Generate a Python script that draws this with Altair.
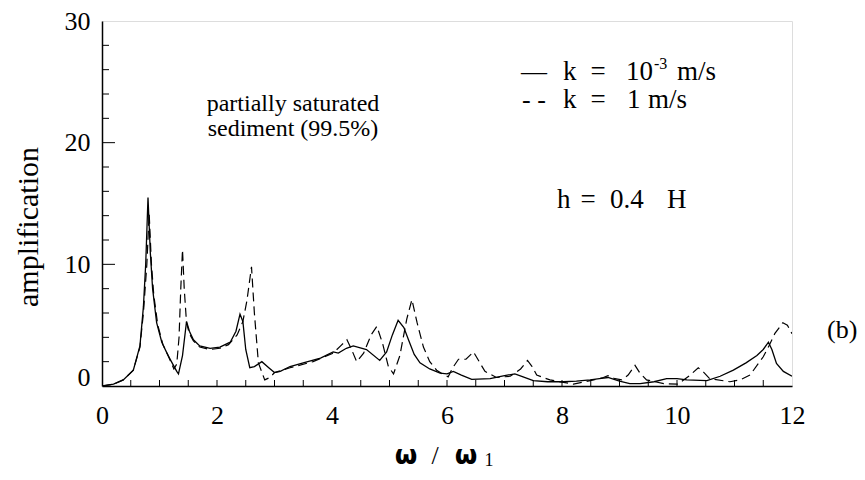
import altair as alt
import pandas as pd

# ---- data ----
solid_x = [0, 0.2, 0.37, 0.545, 0.66, 0.72, 0.76, 0.80, 0.84, 0.88, 0.95, 1.04, 1.15, 1.30, 1.33,
           1.40, 1.47, 1.52, 1.59, 1.7, 1.88, 2.05, 2.23, 2.33, 2.40, 2.45, 2.50, 2.57, 2.65, 2.78,
           2.9, 3.0, 3.1, 3.27, 3.5, 3.8, 4.02, 4.11, 4.25, 4.37, 4.6, 4.83, 4.95, 5.05, 5.15, 5.25,
           5.33, 5.43, 5.53, 5.7, 5.88, 6.0, 6.11, 6.25, 6.43, 6.75, 7.0, 7.18, 7.3, 7.5, 7.75, 8.02,
           8.25, 8.49, 8.65, 8.8, 9.0, 9.18, 9.36, 9.6, 9.82, 10.0, 10.17, 10.52, 10.75, 10.98, 11.2,
           11.39, 11.5, 11.59, 11.65, 11.73, 11.85, 12.0]
solid_y = [0, 0.15, 0.5, 1.3, 3.3, 6.5, 10, 15.5, 11, 8.0, 5.2, 3.6, 2.5, 1.2, 1.0,
           2.5, 5.3, 4.5, 3.8, 3.3, 3.1, 3.2, 3.6, 4.5, 5.9, 5.3, 3.0, 1.5, 1.6, 2.0,
           1.5, 1.1, 1.2, 1.6, 1.9, 2.3, 2.8, 2.7, 3.1, 3.3, 3.0, 2.1, 2.8, 4.2, 5.4, 4.8,
           3.8, 2.6, 1.9, 1.4, 1.05, 1.0, 1.2, 0.9, 0.55, 0.6, 0.85, 1.0, 0.8, 0.45, 0.35, 0.35,
           0.4, 0.5, 0.6, 0.7, 0.4, 0.2, 0.2, 0.35, 0.6, 0.6, 0.5, 0.45, 0.8, 1.3, 1.9,
           2.5, 3.0, 3.6, 3.0, 1.85, 1.2, 0.8]

dash_x = [0, 0.2, 0.37, 0.545, 0.66, 0.72, 0.78, 0.82, 0.86, 0.90, 0.97, 1.06, 1.15, 1.25, 1.30,
          1.34, 1.37, 1.40, 1.43, 1.47, 1.52, 1.59, 1.7, 1.88, 2.05, 2.2, 2.35, 2.45, 2.52, 2.60,
          2.65, 2.72, 2.83, 2.92, 3.0, 3.27, 3.67, 4.02, 4.15, 4.26, 4.34, 4.43, 4.55, 4.68, 4.78,
          4.88, 4.98, 5.07, 5.18, 5.30, 5.39, 5.48, 5.59, 5.70, 5.82, 5.92, 6.02, 6.1, 6.2, 6.33,
          6.46, 6.56, 6.66, 6.86, 7.1, 7.28, 7.4, 7.48, 7.56, 7.79, 8.2, 8.55, 8.72, 8.8, 8.92,
          9.04, 9.15, 9.27, 9.35, 9.47, 9.77, 10.02, 10.23, 10.37, 10.47, 10.57, 10.92, 11.1,
          11.27, 11.5, 11.6, 11.7, 11.84, 11.92, 12.0]
dash_y = [0, 0.15, 0.5, 1.3, 3.2, 6.0, 10, 14.2, 10, 7.5, 5.0, 3.4, 2.5, 1.4, 1.8,
          4, 8, 11.2, 8, 5.2, 4.3, 3.7, 3.2, 3.0, 3.1, 3.4, 4.2, 5.3, 7.0, 9.8,
          6, 1.9, 0.5, 0.7, 1.1, 1.5, 2.0, 2.7, 3.3, 3.8, 3.0, 2.0, 2.7, 4.2, 4.9,
          3.5, 1.6, 1.0, 2.5, 5.5, 7.1, 5.2, 3.2, 2.0, 1.3, 1.0, 0.75, 1.5, 2.2, 2.2,
          2.8, 2.0, 1.2, 0.7, 0.8, 1.4, 2.1, 1.6, 0.9, 0.5, 0.15, 0.5, 0.7, 0.85, 0.6,
          0.5, 0.9, 1.7, 1.1, 0.5, 0.2, 0.15, 0.9, 1.5, 1.1, 0.6, 0.35, 0.5,
          0.9, 2.4, 3.3, 4.3, 5.2, 5.0, 4.3]

x_labels = [0, 2, 4, 6, 8, 10, 12]
y_labels = [0, 10, 20, 30]
x_minor = [0.5, 1, 1.5, 2, 2.5, 3, 3.5, 4, 4.5, 5, 5.5, 6, 6.5, 7, 7.5, 8, 8.5, 9, 9.5,
           10, 10.5, 11, 11.5]
y_minor = [2, 4, 6, 8, 12, 14, 16, 18, 22, 24, 26, 28]
y_major = [10, 20]

W, H = 690, 365
SERIF = "'Liberation Serif', 'DejaVu Serif', serif"

xs = alt.Scale(domain=[0, 12], nice=False, zero=False)
ys = alt.Scale(domain=[0, 30], nice=False, zero=False)

solid_df = pd.DataFrame({"x": solid_x, "y": solid_y})
dash_df = pd.DataFrame({"x": dash_x, "y": dash_y})

axis_x = alt.Axis(values=x_labels, ticks=False, grid=False, domain=True, domainColor="black",
                  domainWidth=1.5, labelFont=SERIF, labelFontSize=26, labelColor="black",
                  labelPadding=16, title=None, labelFlush=False)
axis_y = alt.Axis(values=y_labels, ticks=False, grid=False, domain=True, domainColor="black",
                  domainWidth=1.5, labelFont=SERIF, labelFontSize=26, labelColor="black",
                  labelPadding=12, title=None, labelFlush=False,
                  labelOffset={"condition": {"test": "datum.value === 0", "value": -9}, "value": 0})

solid = alt.Chart(solid_df).mark_line(color="black", strokeWidth=1.3, clip=True).encode(
    x=alt.X("x:Q", scale=xs, axis=axis_x, title=None),
    y=alt.Y("y:Q", scale=ys, axis=axis_y, title=None),
)
dashed = alt.Chart(dash_df).mark_line(color="black", strokeWidth=1.2, strokeDash=[9, 5], clip=True).encode(
    x=alt.X("x:Q", scale=xs, axis=axis_x, title=None),
    y=alt.Y("y:Q", scale=ys, axis=axis_y, title=None),
)

xt = alt.Chart(pd.DataFrame({"x": x_minor})).mark_rule(color="black", strokeWidth=1).encode(
    x=alt.X("x:Q", scale=xs, axis=axis_x, title=None), y=alt.value(H), y2=alt.value(H - 6))
ytm = alt.Chart(pd.DataFrame({"y": y_minor})).mark_rule(color="black", strokeWidth=1).encode(
    y=alt.Y("y:Q", scale=ys, axis=axis_y, title=None), x=alt.value(0), x2=alt.value(7))
ytM = alt.Chart(pd.DataFrame({"y": y_major})).mark_rule(color="black", strokeWidth=1).encode(
    y=alt.Y("y:Q", scale=ys, axis=axis_y, title=None), x=alt.value(0), x2=alt.value(13))

OX, OY = 102, 21  # plot origin on the page


def txt(s, x, y, size, align="left", font=SERIF, weight="normal", angle=0, baseline="alphabetic"):
    return alt.Chart(alt.Data(values=[{"a": 1}])).mark_text(
        text=s, align=align, baseline=baseline, font=font, fontSize=size,
        fontWeight=weight, angle=angle, color="black"
    ).encode(x=alt.value(x - OX), y=alt.value(y - OY))


texts = [
    txt("amplification", 38, 227, 30, align="center", angle=270),
    txt("ω", 406, 464, 26, align="center", font="DejaVu Sans", weight="bold"),
    txt("/", 435, 464, 26, align="center"),
    txt("ω", 466, 464, 26, align="center", font="DejaVu Sans", weight="bold"),
    txt("1", 489, 466, 18, align="center"),
    txt("partially saturated", 293, 111, 24, align="center"),
    txt("sediment (99.5%)", 293, 136, 24, align="center"),
    txt("—", 534, 80, 26, align="center"),
    txt("k", 563, 80, 27),
    txt("=", 598, 80, 27, align="center"),
    txt("10", 626, 80, 27),
    txt("-3", 654, 69, 16),
    txt("m/s", 677, 80, 27),
    txt("- -", 534, 108, 26, align="center"),
    txt("k", 563, 108, 27),
    txt("=", 598, 108, 27, align="center"),
    txt("1", 627, 108, 27),
    txt("m/s", 648, 108, 27),
    txt("h", 557, 208, 27),
    txt("=", 588, 208, 27, align="center"),
    txt("0.4", 610, 208, 27),
    txt("H", 667, 208, 27),
    txt("(b)", 827, 338, 26),
]

chart = alt.layer(solid, dashed, xt, ytm, ytM, *texts).properties(
    width=W, height=H,
    autosize=alt.AutoSizeParams(type="none"),
    padding={"left": OX - 8, "top": OY - 8, "right": 865 - 16 - (OX - 8) - W, "bottom": 480 - 16 - (OY - 8) - H},
).configure_view(stroke="black", strokeWidth=1.2).configure(background="white")

chart.save("out.html", embed_options={"renderer": "svg", "actions": False})
